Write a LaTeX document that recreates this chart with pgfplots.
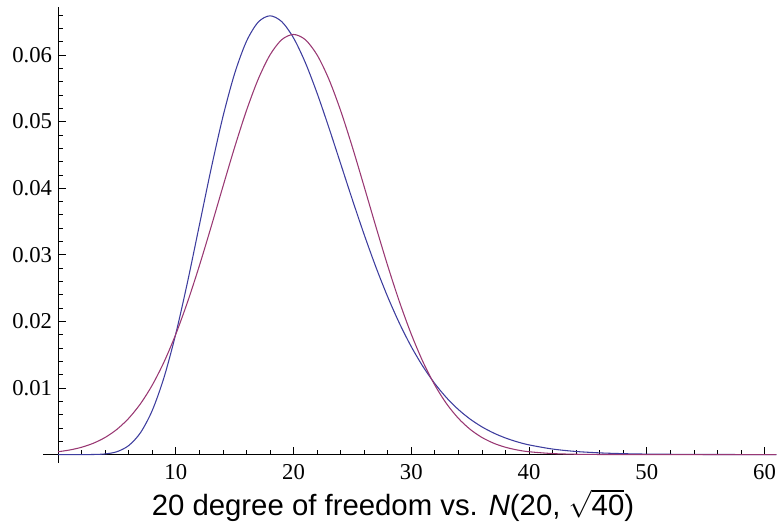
\documentclass[border=0pt]{standalone}
\usepackage{fontspec}
\setmainfont{Liberation Serif}
\newfontfamily\lsans{Liberation Sans}
\usepackage{pgfplots}
\pgfplotsset{compat=1.18}
\definecolor{mblue}{rgb}{0.24,0.24,0.62}
\definecolor{mpurp}{rgb}{0.60,0.22,0.45}
\begin{document}
\begin{tikzpicture}
\useasboundingbox (-32.5pt,-46.8pt) rectangle (550.3pt,346.95pt);
\begin{axis}[
  scale only axis,
  width=549.75pt, height=341.7pt,
  axis lines=middle,
  axis line style={-, line width=0.6pt},
  xmin=-1.25, xmax=61.0,
  ymin=-0.0012, ymax=0.0672,
  xtick={10,20,30,40,50,60},
  ytick={0.01,0.02,0.03,0.04,0.05,0.06},
  minor xtick={2,4,6,8,12,14,16,18,22,24,26,28,32,34,36,38,42,44,46,48,52,54,56,58},
  minor ytick={0.002,0.004,0.006,0.008,0.012,0.014,0.016,0.018,0.022,0.024,0.026,0.028,0.032,0.034,0.036,0.038,0.042,0.044,0.046,0.048,0.052,0.054,0.056,0.058,0.062,0.064,0.066},
  tick align=inside,
  major tick length=6pt,
  minor tick length=3.5pt,
  tick style={black, line width=0.5pt},
  /pgf/number format/assume math mode=true,
  yticklabel style={/pgf/number format/fixed, /pgf/number format/fixed zerofill, /pgf/number format/precision=2, font=\fontsize{17}{20}\selectfont, xshift=-1pt},
  xticklabel style={font=\fontsize{17}{20}\selectfont, yshift=-4pt},
  scaled y ticks=false,
  clip=false,
]
\addplot[mblue, line width=0.8pt, smooth] coordinates {
(0,0) (1,0.0000000016) (2,0.000000506) (3,0.0000118) (4,0.0000955) (5,0.000431) (6,0.001350) (7,0.003279) (8,0.006615) (9,0.011582)
(10,0.018133) (11,0.02593) (12,0.034419) (13,0.042904) (14,0.050701) (15,0.057219) (16,0.062036) (17,0.064932) (18,0.065876) (19,0.064999)
(20,0.062553) (21,0.058858) (22,0.054261) (23,0.049101) (24,0.043681) (25,0.038256) (26,0.033027) (27,0.028133) (28,0.023672) (29,0.019689)
(30,0.016203) (31,0.013202) (32,0.010655) (33,0.008525) (34,0.006764) (35,0.005325) (36,0.004162) (37,0.003231) (38,0.002491) (39,0.001909)
(40,0.001454) (42,0.000830) (44,0.000464) (46,0.000255) (48,0.000137) (50,0.000073) (55,0.000014) (61,0.0000014)
};
\addplot[mpurp, line width=0.8pt, smooth] coordinates {
(0,0.000425) (1,0.000692) (2,0.001099) (3,0.001702) (4,0.002571) (5,0.003789) (6,0.005443) (7,0.007628) (8,0.010427) (9,0.013899)
(10,0.018072) (11,0.022917) (12,0.028343) (13,0.034192) (14,0.040220) (15,0.046149) (16,0.051644) (17,0.056366) (18,0.060002) (19,0.062294)
(20,0.063078) (21,0.062294) (22,0.060002) (23,0.056366) (24,0.051644) (25,0.046149) (26,0.040220) (27,0.034192) (28,0.028343) (29,0.022917)
(30,0.018072) (31,0.013899) (32,0.010427) (33,0.007628) (34,0.005443) (35,0.003789) (36,0.002571) (37,0.001702) (38,0.001099) (39,0.000692)
(40,0.000425) (42,0.000149) (44,0.0000471) (46,0.0000135) (48,0.0000035) (50,0.0000008) (55,0) (61,0)
};
\node[anchor=center, font=\lsans\fontsize{22}{26}\selectfont] at (axis description cs:0.477,-0.094)
  {20 degree of freedom vs. \textit{N}(20, $\sqrt{\hbox{\lsans\fontsize{22}{26}\selectfont 40}}$)};
\end{axis}
\end{tikzpicture}
\end{document}
